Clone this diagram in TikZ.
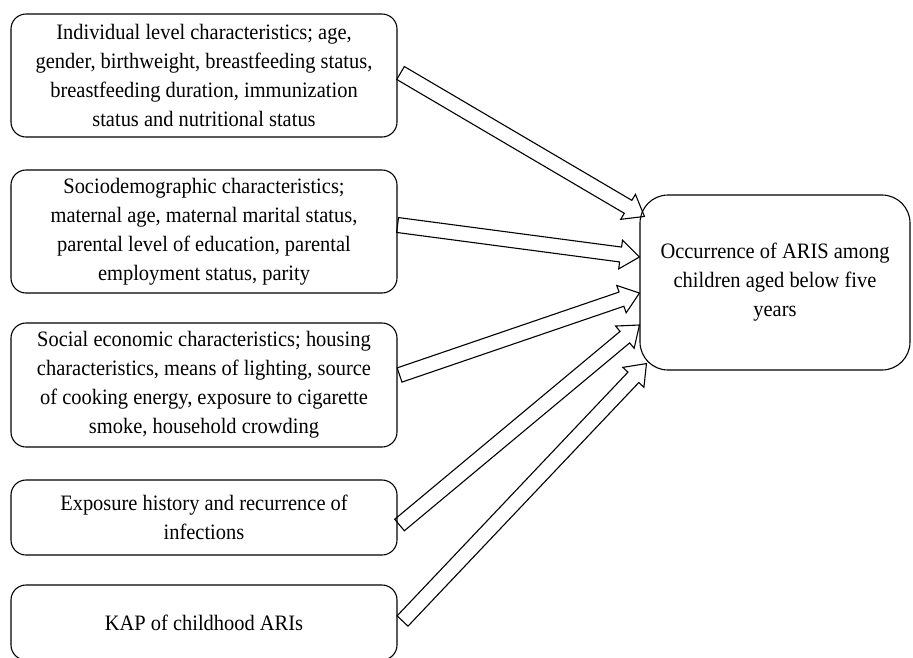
\documentclass[tikz,border=0pt]{standalone}
\usepackage{fontspec}
\setmainfont{Liberation Serif}[FakeStretch=0.93]
\usepackage{tikz}
\usetikzlibrary{calc}
\tikzset{
  every picture/.style={line join=miter, line cap=butt},
  box/.style={draw, rounded corners=15pt, line width=1.1pt, align=center,
    minimum width=386pt, inner sep=0pt, font=\fontsize{22}{29}\selectfont},
  outbox/.style={box, rounded corners=28pt, minimum width=270pt, minimum height=175pt},
  arrowline/.style={draw, line width=1.1pt},
}
% hollow block arrow from #1 to #2
\newcommand{\blockarrow}[2]{%
  \draw[arrowline] let \p1=($(#2)-(#1)$), \n1={atan2(\y1,\x1)},
    \n2={veclen(\x1,\y1)-19pt} in
    ($(#1)+(\n1+90:7.5pt)$) -- ($(#1)+(\n1:\n2)+(\n1+90:7.5pt)$)
    -- ($(#1)+(\n1:\n2)+(\n1+90:14.5pt)$) -- (#2)
    -- ($(#1)+(\n1:\n2)+(\n1-90:14.5pt)$) -- ($(#1)+(\n1:\n2)+(\n1-90:7.5pt)$)
    -- ($(#1)+(\n1-90:7.5pt)$) -- cycle;}

\begin{document}
\begin{tikzpicture}[x=1pt,y=-1pt]
\clip(0,0)rectangle(913,657);
% factor boxes
\node[box,minimum height=123pt](indiv)at(204,75.5){Individual level characteristics; age,\\
gender, birthweight, breastfeeding status,\\
breastfeeding duration, immunization\\
status and nutritional status};
\node[box,minimum height=123pt](socio)at(204,231.5){Sociodemographic characteristics;\\
maternal age, maternal marital status,\\
parental level of education, parental\\
employment status, parity};
\node[box,minimum height=124pt](econ)at(204,385){Social economic characteristics; housing\\
characteristics, means of lighting, source\\
of cooking energy, exposure to cigarette\\
smoke, household crowding};
\node[box,minimum height=75pt](expo)at(204,517.5){Exposure history and recurrence of\\
infections};
\node[box,minimum height=75pt](kap)at(204,622.5){KAP of childhood ARIs};
% outcome
\node[outbox](aris)at(775,282.5){Occurrence of ARIS among\\
children aged below five\\
years};
% arrow ends
\coordinate(t1)at([xshift=3pt,yshift=2.5pt]indiv.east);
\coordinate(t2)at([yshift=6.5pt]socio.east);
\coordinate(t3)at([xshift=2pt,yshift=10pt]econ.east);
\coordinate(t4)at([xshift=2pt,yshift=-7.5pt]expo.east);
\coordinate(t5)at([xshift=5pt,yshift=1.5pt]kap.east);
\coordinate(h1)at([xshift=5pt,yshift=-22pt]aris.north west);
\coordinate(h2)at([yshift=25.5pt]aris.west);
\coordinate(h3)at([yshift=-10.5pt]aris.west);
\coordinate(h4)at([yshift=-42.5pt]aris.west);
\coordinate(h5)at([xshift=7pt,yshift=7pt]aris.south west);
\blockarrow{t1}{h1}
\blockarrow{t2}{h2}
\blockarrow{t3}{h3}
\blockarrow{t4}{h4}
\blockarrow{t5}{h5}
\end{tikzpicture}
\end{document}
